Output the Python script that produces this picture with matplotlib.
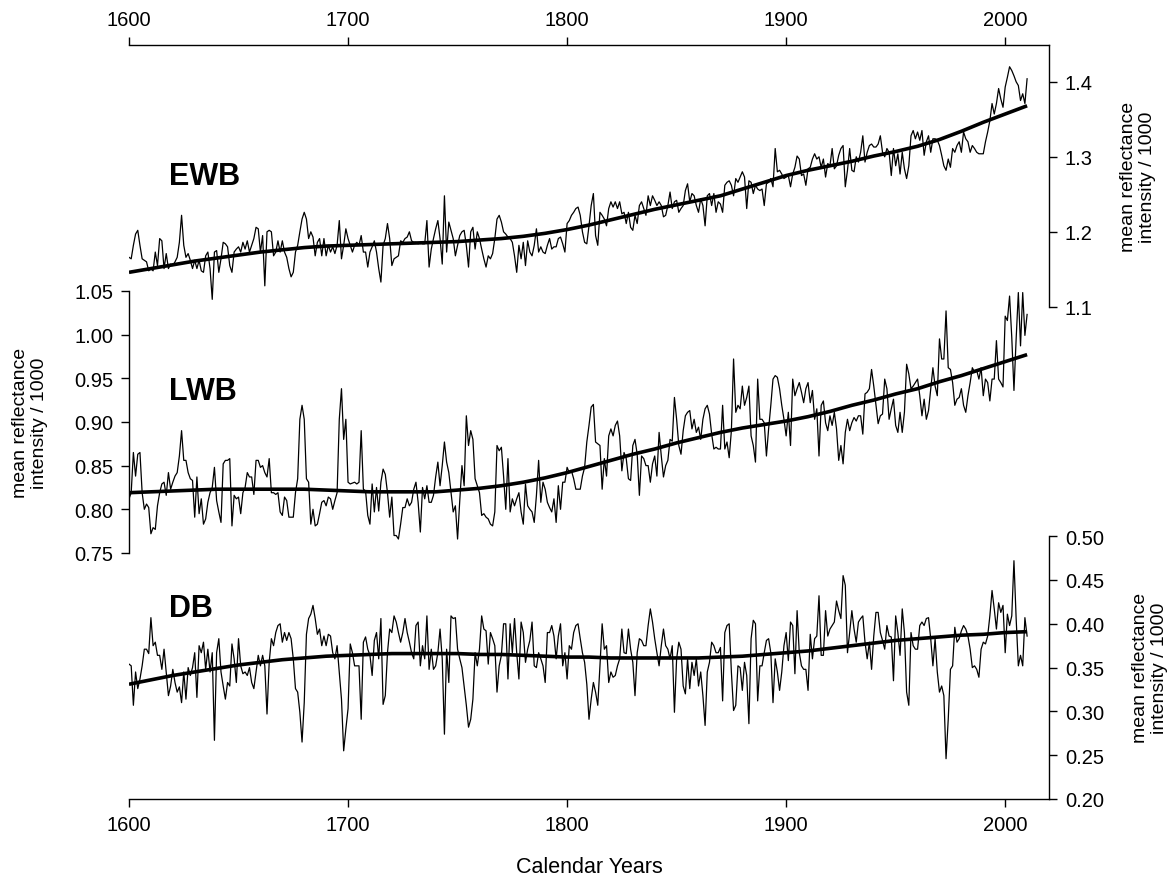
import numpy as np
import matplotlib
matplotlib.use("Agg")
import matplotlib.pyplot as plt

plt.rcParams['font.family'] = ['Liberation Sans', 'DejaVu Sans']

# annual series, 1600-2010 (mean reflectance intensity / 1000)
years = np.arange(1600, 2011)

ewb = [
    1.166, 1.164, 1.182, 1.197, 1.202, 1.182, 1.164, 1.162, 1.160, 1.148,
    1.151, 1.148, 1.173, 1.155, 1.191, 1.188, 1.151, 1.171, 1.151, 1.157,
    1.155, 1.160, 1.166, 1.186, 1.222, 1.182, 1.166, 1.171, 1.162, 1.151,
    1.162, 1.151, 1.162, 1.148, 1.146, 1.168, 1.173, 1.151, 1.110, 1.173,
    1.175, 1.146, 1.164, 1.186, 1.184, 1.180, 1.155, 1.146, 1.173, 1.177,
    1.180, 1.173, 1.186, 1.177, 1.188, 1.173, 1.182, 1.191, 1.206, 1.204,
    1.173, 1.195, 1.128, 1.200, 1.202, 1.200, 1.168, 1.173, 1.188, 1.173,
    1.188, 1.173, 1.166, 1.151, 1.140, 1.146, 1.173, 1.182, 1.200, 1.217,
    1.226, 1.217, 1.191, 1.200, 1.193, 1.168, 1.186, 1.191, 1.168, 1.191,
    1.168, 1.182, 1.173, 1.180, 1.171, 1.182, 1.215, 1.164, 1.182, 1.204,
    1.191, 1.182, 1.173, 1.182, 1.186, 1.182, 1.195, 1.173, 1.173, 1.153,
    1.173, 1.180, 1.188, 1.173, 1.151, 1.133, 1.182, 1.191, 1.211, 1.191,
    1.155, 1.164, 1.166, 1.168, 1.188, 1.186, 1.191, 1.193, 1.200, 1.188,
    1.186, 1.186, 1.184, 1.186, 1.184, 1.184, 1.215, 1.153, 1.177, 1.191,
    1.204, 1.215, 1.191, 1.157, 1.248, 1.173, 1.213, 1.202, 1.191, 1.168,
    1.182, 1.195, 1.200, 1.202, 1.182, 1.153, 1.200, 1.206, 1.177, 1.200,
    1.191, 1.177, 1.164, 1.153, 1.168, 1.164, 1.171, 1.191, 1.217, 1.222,
    1.213, 1.200, 1.197, 1.193, 1.191, 1.186, 1.168, 1.146, 1.182, 1.164,
    1.186, 1.155, 1.188, 1.173, 1.168, 1.182, 1.204, 1.173, 1.180, 1.173,
    1.171, 1.182, 1.191, 1.177, 1.180, 1.180, 1.191, 1.193, 1.184, 1.173,
    1.211, 1.215, 1.222, 1.226, 1.231, 1.233, 1.222, 1.200, 1.186, 1.184,
    1.208, 1.235, 1.251, 1.195, 1.182, 1.226, 1.222, 1.217, 1.208, 1.231,
    1.240, 1.233, 1.240, 1.231, 1.240, 1.224, 1.226, 1.211, 1.226, 1.206,
    1.202, 1.222, 1.211, 1.235, 1.240, 1.231, 1.222, 1.248, 1.235, 1.248,
    1.242, 1.235, 1.240, 1.235, 1.220, 1.222, 1.235, 1.253, 1.231, 1.240,
    1.242, 1.226, 1.231, 1.235, 1.255, 1.264, 1.240, 1.251, 1.248, 1.235,
    1.226, 1.244, 1.235, 1.208, 1.248, 1.251, 1.235, 1.251, 1.226, 1.240,
    1.237, 1.226, 1.262, 1.266, 1.268, 1.262, 1.248, 1.271, 1.266, 1.273,
    1.280, 1.273, 1.231, 1.268, 1.266, 1.251, 1.262, 1.257, 1.255, 1.257,
    1.235, 1.264, 1.266, 1.271, 1.260, 1.311, 1.280, 1.282, 1.277, 1.271,
    1.273, 1.275, 1.260, 1.277, 1.286, 1.301, 1.297, 1.275, 1.277, 1.262,
    1.284, 1.286, 1.297, 1.304, 1.297, 1.300, 1.286, 1.297, 1.273, 1.291,
    1.288, 1.311, 1.284, 1.288, 1.302, 1.311, 1.315, 1.260, 1.282, 1.311,
    1.282, 1.280, 1.300, 1.293, 1.306, 1.328, 1.293, 1.306, 1.315, 1.317,
    1.313, 1.313, 1.317, 1.328, 1.306, 1.300, 1.311, 1.306, 1.275, 1.311,
    1.288, 1.304, 1.277, 1.306, 1.284, 1.271, 1.288, 1.328, 1.335, 1.324,
    1.333, 1.322, 1.335, 1.302, 1.320, 1.328, 1.306, 1.324, 1.324, 1.322,
    1.315, 1.302, 1.288, 1.282, 1.297, 1.286, 1.311, 1.306, 1.315, 1.320,
    1.306, 1.333, 1.324, 1.320, 1.306, 1.315, 1.311, 1.306, 1.304, 1.304,
    1.304, 1.320, 1.333, 1.348, 1.371, 1.357, 1.371, 1.391, 1.377, 1.366,
    1.393, 1.406, 1.420, 1.415, 1.408, 1.400, 1.395, 1.375, 1.384, 1.371,
    1.404,
]

lwb = [
    0.812, 0.819, 0.865, 0.838, 0.863, 0.865, 0.819, 0.800, 0.806, 0.802,
    0.772, 0.779, 0.777, 0.804, 0.819, 0.829, 0.831, 0.816, 0.842, 0.823,
    0.831, 0.838, 0.842, 0.861, 0.890, 0.856, 0.856, 0.842, 0.835, 0.833,
    0.791, 0.837, 0.795, 0.812, 0.783, 0.789, 0.808, 0.819, 0.825, 0.848,
    0.810, 0.797, 0.785, 0.852, 0.856, 0.856, 0.858, 0.781, 0.816, 0.812,
    0.814, 0.795, 0.819, 0.825, 0.842, 0.837, 0.837, 0.817, 0.856, 0.856,
    0.848, 0.850, 0.842, 0.837, 0.858, 0.819, 0.819, 0.817, 0.819, 0.797,
    0.793, 0.814, 0.810, 0.791, 0.791, 0.791, 0.819, 0.835, 0.903, 0.919,
    0.903, 0.835, 0.831, 0.783, 0.800, 0.781, 0.783, 0.795, 0.808, 0.810,
    0.804, 0.814, 0.812, 0.800, 0.810, 0.819, 0.903, 0.938, 0.880, 0.903,
    0.831, 0.829, 0.830, 0.831, 0.829, 0.831, 0.890, 0.823, 0.821, 0.793,
    0.783, 0.829, 0.797, 0.825, 0.798, 0.831, 0.846, 0.840, 0.819, 0.791,
    0.814, 0.770, 0.770, 0.766, 0.783, 0.802, 0.802, 0.812, 0.804, 0.808,
    0.823, 0.831, 0.808, 0.774, 0.825, 0.812, 0.827, 0.808, 0.808, 0.816,
    0.837, 0.854, 0.827, 0.850, 0.877, 0.854, 0.842, 0.819, 0.797, 0.804,
    0.766, 0.810, 0.850, 0.827, 0.907, 0.873, 0.890, 0.880, 0.835, 0.827,
    0.819, 0.793, 0.795, 0.791, 0.789, 0.783, 0.781, 0.797, 0.873, 0.867,
    0.871, 0.838, 0.800, 0.858, 0.797, 0.812, 0.804, 0.812, 0.819, 0.797,
    0.783, 0.829, 0.804, 0.800, 0.797, 0.785, 0.816, 0.856, 0.808, 0.831,
    0.823, 0.808, 0.802, 0.797, 0.812, 0.785, 0.827, 0.800, 0.831, 0.831,
    0.848, 0.842, 0.844, 0.835, 0.823, 0.823, 0.823, 0.838, 0.848, 0.877,
    0.896, 0.917, 0.920, 0.877, 0.875, 0.873, 0.823, 0.858, 0.838, 0.884,
    0.892, 0.884, 0.896, 0.901, 0.884, 0.844, 0.865, 0.858, 0.835, 0.833,
    0.873, 0.880, 0.863, 0.816, 0.861, 0.858, 0.850, 0.850, 0.831, 0.852,
    0.861, 0.838, 0.888, 0.861, 0.837, 0.850, 0.856, 0.880, 0.878, 0.928,
    0.903, 0.873, 0.863, 0.890, 0.907, 0.911, 0.913, 0.892, 0.903, 0.888,
    0.894, 0.880, 0.903, 0.915, 0.919, 0.909, 0.886, 0.869, 0.871, 0.869,
    0.869, 0.919, 0.869, 0.877, 0.859, 0.890, 0.972, 0.911, 0.919, 0.915,
    0.941, 0.919, 0.928, 0.941, 0.884, 0.873, 0.854, 0.949, 0.903, 0.903,
    0.899, 0.861, 0.892, 0.919, 0.949, 0.953, 0.951, 0.938, 0.919, 0.903,
    0.884, 0.911, 0.873, 0.949, 0.930, 0.938, 0.945, 0.934, 0.922, 0.938,
    0.945, 0.922, 0.936, 0.903, 0.915, 0.861, 0.919, 0.924, 0.899, 0.890,
    0.907, 0.896, 0.911, 0.892, 0.856, 0.873, 0.852, 0.888, 0.903, 0.890,
    0.899, 0.905, 0.901, 0.907, 0.907, 0.886, 0.932, 0.934, 0.938, 0.960,
    0.941, 0.920, 0.898, 0.907, 0.909, 0.949, 0.938, 0.903, 0.915, 0.926,
    0.896, 0.888, 0.911, 0.888, 0.911, 0.966, 0.955, 0.938, 0.941, 0.945,
    0.949, 0.930, 0.907, 0.926, 0.903, 0.913, 0.938, 0.962, 0.941, 0.930,
    0.995, 0.972, 0.972, 1.027, 0.962, 0.960, 0.945, 0.919, 0.926, 0.928,
    0.938, 0.919, 0.911, 0.930, 0.945, 0.962, 0.957, 0.959, 0.949, 0.962,
    0.930, 0.949, 0.945, 0.924, 0.949, 0.949, 0.993, 0.949, 0.945, 0.940,
    1.021, 1.016, 1.044, 0.997, 0.936, 0.995, 1.048, 0.987, 1.048, 0.999,
    1.023,
]

db = [
    0.354, 0.352, 0.307, 0.345, 0.326, 0.337, 0.352, 0.371, 0.371, 0.366,
    0.407, 0.375, 0.379, 0.364, 0.364, 0.348, 0.371, 0.345, 0.318, 0.329,
    0.348, 0.333, 0.322, 0.328, 0.310, 0.345, 0.314, 0.350, 0.341, 0.350,
    0.367, 0.316, 0.375, 0.367, 0.379, 0.348, 0.371, 0.345, 0.367, 0.267,
    0.367, 0.383, 0.345, 0.329, 0.314, 0.333, 0.329, 0.377, 0.360, 0.333,
    0.383, 0.352, 0.343, 0.345, 0.341, 0.350, 0.333, 0.326, 0.345, 0.364,
    0.352, 0.364, 0.352, 0.297, 0.356, 0.383, 0.375, 0.390, 0.398, 0.400,
    0.379, 0.390, 0.381, 0.390, 0.383, 0.360, 0.326, 0.322, 0.299, 0.265,
    0.310, 0.388, 0.406, 0.411, 0.421, 0.406, 0.388, 0.394, 0.375, 0.386,
    0.375, 0.388, 0.386, 0.367, 0.360, 0.375, 0.345, 0.314, 0.255, 0.280,
    0.303, 0.377, 0.367, 0.352, 0.352, 0.352, 0.291, 0.379, 0.385, 0.371,
    0.364, 0.341, 0.381, 0.390, 0.360, 0.406, 0.308, 0.318, 0.367, 0.394,
    0.390, 0.409, 0.402, 0.390, 0.379, 0.390, 0.406, 0.390, 0.379, 0.367,
    0.360, 0.398, 0.402, 0.352, 0.375, 0.360, 0.409, 0.348, 0.371, 0.348,
    0.352, 0.367, 0.394, 0.360, 0.274, 0.371, 0.333, 0.409, 0.406, 0.407,
    0.371, 0.360, 0.350, 0.329, 0.307, 0.282, 0.291, 0.314, 0.367, 0.352,
    0.371, 0.409, 0.394, 0.392, 0.354, 0.390, 0.383, 0.375, 0.322, 0.352,
    0.364, 0.400, 0.400, 0.337, 0.400, 0.367, 0.406, 0.367, 0.337, 0.402,
    0.390, 0.356, 0.371, 0.381, 0.402, 0.352, 0.350, 0.367, 0.360, 0.352,
    0.333, 0.390, 0.390, 0.398, 0.386, 0.360, 0.386, 0.400, 0.352, 0.367,
    0.337, 0.375, 0.371, 0.390, 0.398, 0.400, 0.383, 0.367, 0.356, 0.331,
    0.291, 0.314, 0.333, 0.322, 0.307, 0.352, 0.400, 0.371, 0.375, 0.333,
    0.345, 0.339, 0.341, 0.352, 0.360, 0.394, 0.367, 0.366, 0.394, 0.371,
    0.356, 0.318, 0.367, 0.383, 0.381, 0.375, 0.375, 0.398, 0.417, 0.402,
    0.383, 0.367, 0.352, 0.375, 0.394, 0.375, 0.371, 0.360, 0.375, 0.299,
    0.360, 0.379, 0.371, 0.329, 0.320, 0.360, 0.326, 0.356, 0.341, 0.360,
    0.329, 0.345, 0.318, 0.284, 0.345, 0.356, 0.379, 0.375, 0.367, 0.367,
    0.373, 0.312, 0.390, 0.398, 0.400, 0.345, 0.301, 0.307, 0.352, 0.350,
    0.324, 0.356, 0.341, 0.286, 0.383, 0.404, 0.400, 0.312, 0.352, 0.352,
    0.367, 0.381, 0.383, 0.367, 0.310, 0.360, 0.345, 0.324, 0.345, 0.375,
    0.390, 0.358, 0.402, 0.398, 0.343, 0.415, 0.367, 0.352, 0.348, 0.348,
    0.324, 0.388, 0.360, 0.383, 0.386, 0.432, 0.364, 0.364, 0.415, 0.386,
    0.394, 0.398, 0.402, 0.426, 0.415, 0.406, 0.455, 0.444, 0.367, 0.390,
    0.415, 0.394, 0.379, 0.402, 0.406, 0.409, 0.379, 0.360, 0.379, 0.348,
    0.386, 0.413, 0.413, 0.390, 0.381, 0.371, 0.398, 0.386, 0.385, 0.335,
    0.409, 0.390, 0.364, 0.417, 0.390, 0.322, 0.307, 0.390, 0.375, 0.371,
    0.371, 0.398, 0.402, 0.398, 0.406, 0.407, 0.383, 0.352, 0.383, 0.345,
    0.322, 0.329, 0.318, 0.246, 0.291, 0.348, 0.352, 0.396, 0.379, 0.383,
    0.392, 0.398, 0.394, 0.386, 0.371, 0.350, 0.352, 0.348, 0.339, 0.371,
    0.379, 0.377, 0.386, 0.409, 0.438, 0.417, 0.394, 0.424, 0.413, 0.421,
    0.367, 0.411, 0.398, 0.409, 0.472, 0.406, 0.352, 0.364, 0.352, 0.407,
    0.386,
]

# smoothing curves, read every 10 years
fit_years = np.arange(1600, 2011, 10)
ewb_fit = [1.146, 1.151, 1.156, 1.161, 1.165, 1.169, 1.173, 1.176, 1.179, 1.181,
           1.182, 1.183, 1.184, 1.185, 1.186, 1.187, 1.189, 1.191, 1.194, 1.198,
           1.203, 1.209, 1.216, 1.223, 1.230, 1.236, 1.242, 1.248, 1.257, 1.266,
           1.275, 1.282, 1.288, 1.294, 1.301, 1.307, 1.314, 1.323, 1.334, 1.346,
           1.357, 1.368]
lwb_fit = [0.819, 0.820, 0.821, 0.822, 0.823, 0.823, 0.823, 0.823, 0.823, 0.822,
           0.821, 0.820, 0.820, 0.820, 0.820, 0.822, 0.824, 0.827, 0.831, 0.836,
           0.842, 0.849, 0.856, 0.863, 0.869, 0.876, 0.882, 0.888, 0.893, 0.897,
           0.901, 0.906, 0.912, 0.919, 0.925, 0.932, 0.938, 0.946, 0.953, 0.961,
           0.969, 0.977]
db_fit = [0.331, 0.336, 0.341, 0.345, 0.349, 0.353, 0.356, 0.359, 0.361, 0.363,
          0.364, 0.365, 0.366, 0.366, 0.366, 0.366, 0.365, 0.365, 0.364, 0.363,
          0.362, 0.362, 0.361, 0.361, 0.361, 0.361, 0.361, 0.362, 0.363, 0.365,
          0.367, 0.369, 0.372, 0.375, 0.378, 0.381, 0.383, 0.385, 0.387, 0.388,
          0.390, 0.391]

x_ticks = [1600, 1700, 1800, 1900, 2000]
ewb_ticks = [1.1, 1.2, 1.3, 1.4]
lwb_ticks = [0.75, 0.80, 0.85, 0.90, 0.95, 1.00, 1.05]
db_ticks = [0.20, 0.25, 0.30, 0.35, 0.40, 0.45, 0.50]
ylab = "mean reflectance\nintensity / 1000"

W, H = 1174, 887
fig = plt.figure(figsize=(W / 100, H / 100), dpi=100)
rect = [129 / W, 87 / H, 920 / W, 754 / H]
ax_e = fig.add_axes(rect, label="ewb")
ax_l = fig.add_axes(rect, label="lwb")
ax_d = fig.add_axes(rect, label="db")

fs = 14.5
for ax in (ax_e, ax_l, ax_d):
    ax.patch.set_alpha(0)
    ax.set_xlim(1600, 2020)
    for s in ax.spines.values():
        s.set_visible(False)
        s.set_linewidth(1.0)
    ax.tick_params(which="both", direction="out", length=5.5, width=1.0,
                   labelsize=fs, pad=6)

# EWB: top axis + right axis
ax_e.set_ylim(0.444, 1.449)
ax_e.plot(years, ewb, color="black", lw=0.9)
ax_e.plot(fit_years, ewb_fit, color="black", lw=2.6, solid_capstyle="butt")
ax_e.spines["top"].set_visible(True)
ax_e.spines["right"].set_visible(True)
ax_e.spines["right"].set_bounds(1.1, 1.449)
ax_e.xaxis.tick_top()
ax_e.set_xticks(x_ticks)
ax_e.yaxis.tick_right()
ax_e.set_yticks(ewb_ticks)
ax_e.set_yticklabels(["%.1f" % v for v in ewb_ticks])

# LWB: left axis only
ax_l.set_ylim(0.4685, 1.3313)
ax_l.plot(years, lwb, color="black", lw=0.9)
ax_l.plot(fit_years, lwb_fit, color="black", lw=2.6, solid_capstyle="butt")
ax_l.spines["left"].set_visible(True)
ax_l.spines["left"].set_bounds(0.75, 1.05)
ax_l.tick_params(axis="x", bottom=False, top=False, labelbottom=False, labeltop=False)
ax_l.set_yticks(lwb_ticks)
ax_l.set_yticklabels(["%.2f" % v for v in lwb_ticks])

# DB: bottom axis + right axis
ax_d.set_ylim(0.2, 1.0607)
ax_d.plot(years, db, color="black", lw=0.9)
ax_d.plot(fit_years, db_fit, color="black", lw=2.6, solid_capstyle="butt")
ax_d.spines["bottom"].set_visible(True)
ax_d.spines["right"].set_visible(True)
ax_d.spines["right"].set_bounds(0.2, 0.5)
ax_d.set_xticks(x_ticks)
ax_d.yaxis.tick_right()
ax_d.set_yticks(db_ticks)
ax_d.set_yticklabels(["%.2f" % v for v in db_ticks])

# panel names
for name, ypix in (("EWB", 177), ("LWB", 392), ("DB", 609)):
    fig.text(169 / W, 1 - ypix / H, name, fontsize=22, fontweight="bold",
             ha="left", va="center")

# axis titles
fig.text(1138 / W, 1 - 177 / H, ylab, rotation=90, fontsize=14, ha="center",
         va="center", multialignment="center")
fig.text(30 / W, 1 - 423 / H, ylab, rotation=90, fontsize=14, ha="center",
         va="center", multialignment="center")
fig.text(1150 / W, 1 - 668 / H, ylab, rotation=90, fontsize=14, ha="center",
         va="center", multialignment="center")
fig.text(589 / W, 1 - 868 / H, "Calendar Years", fontsize=15.5, ha="center",
         va="center")

fig.savefig("out.png", dpi=100)
